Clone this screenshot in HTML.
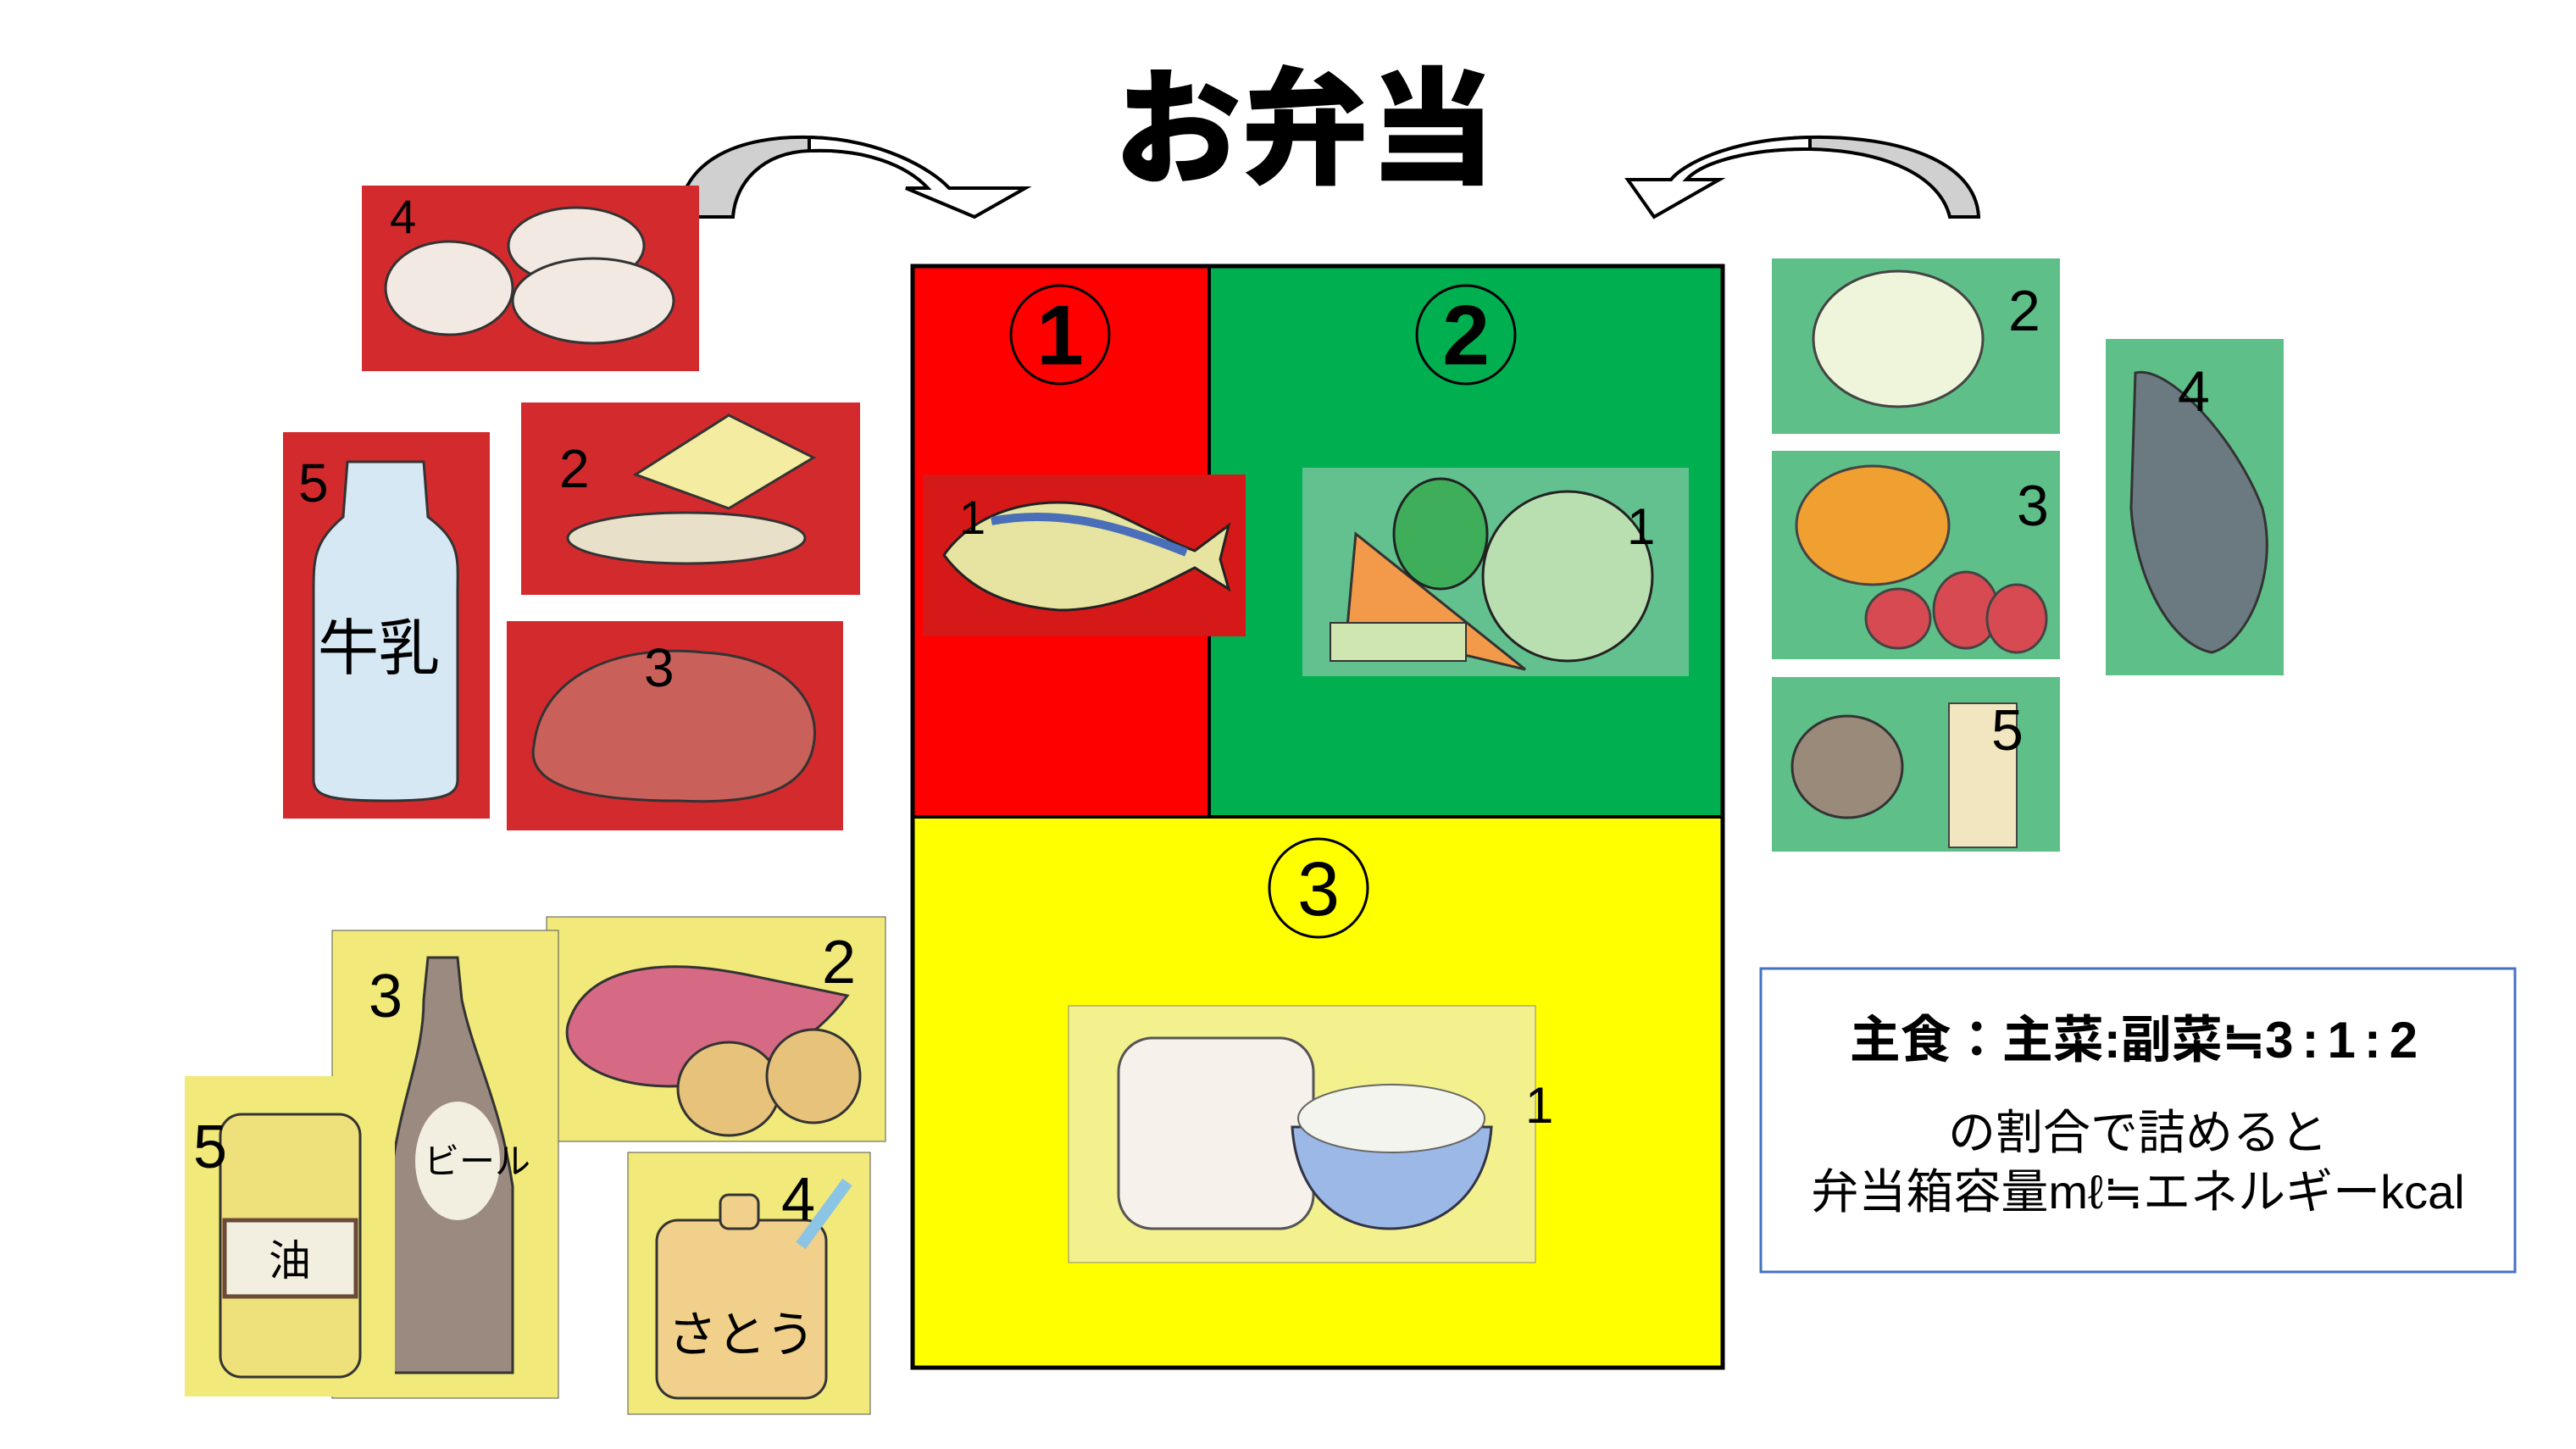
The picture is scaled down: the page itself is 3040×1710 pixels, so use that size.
<!DOCTYPE html>
<html><head><meta charset="utf-8"><style>
html,body{margin:0;padding:0;background:#fff;}
svg{display:block;}
text{font-family:"Liberation Sans","Noto Sans CJK JP",sans-serif;}
</style></head><body>
<svg width="3040" height="1710" viewBox="0 0 3040 1710" xmlns="http://www.w3.org/2000/svg">
<rect width="3040" height="1710" fill="#fff"/>

<!-- Title -->
<text x="1540" y="205" font-size="150" font-weight="900" text-anchor="middle" font-family="'Noto Sans CJK JP',sans-serif">お弁当</text>

<!-- Left curved arrow -->
<path d="M801,256 C805,190 870,160 955,162 C1040,164 1100,200 1120,222 L1095,222 C1070,195 1020,175 955,178 C900,180 868,215 865,256 Z" fill="#d0d0d0" stroke="#000" stroke-width="4"/>
<path d="M955,162 C1040,164 1100,200 1120,222 L1210,222 L1150,256 L1069,222 L1095,222 C1070,195 1020,175 955,178 Z" fill="#fff" stroke="#000" stroke-width="4"/>
<!-- Right curved arrow -->
<path d="M2335,256 C2332,190 2240,160 2136,162 C2040,164 1985,195 1972,212 L1990,212 C2010,190 2070,175 2136,176 C2230,178 2290,210 2301,256 Z" fill="#d0d0d0" stroke="#000" stroke-width="4"/>
<path d="M2136,162 C2040,164 1985,195 1972,212 L1921,212 L1952,256 L2029,212 L1990,212 C2010,190 2070,175 2136,176 Z" fill="#fff" stroke="#000" stroke-width="4"/>

<!-- Main box -->
<rect x="1077" y="314" width="349" height="650" fill="#ff0000"/>
<rect x="1426" y="314" width="607" height="650" fill="#00b050"/>
<rect x="1077" y="964" width="956" height="650" fill="#ffff00"/>
<rect x="1077" y="314" width="956" height="1300" fill="none" stroke="#000" stroke-width="5"/>
<line x1="1427" y1="314" x2="1427" y2="964" stroke="#000" stroke-width="4"/>
<line x1="1077" y1="964" x2="2033" y2="964" stroke="#000" stroke-width="4"/>

<ellipse cx="1251" cy="395" rx="58" ry="58" fill="none" stroke="#000" stroke-width="3"/>
<text x="1251" y="430" font-size="100" font-weight="bold" text-anchor="middle">1</text>
<ellipse cx="1730" cy="395" rx="58" ry="58" fill="none" stroke="#000" stroke-width="3"/>
<text x="1730" y="430" font-size="100" font-weight="bold" text-anchor="middle">2</text>
<ellipse cx="1556" cy="1048" rx="58" ry="58" fill="none" stroke="#000" stroke-width="3"/>
<text x="1556" y="1080" font-size="90" text-anchor="middle">3</text>

<!-- Fish photo -->
<rect x="1089" y="560" width="381" height="191" fill="#d51818"/>
<path d="M1114,655 C1160,590 1250,585 1300,600 C1340,615 1380,640 1410,650 L1450,620 L1440,660 L1450,695 L1410,670 C1370,690 1320,720 1250,720 C1180,715 1140,690 1114,655 Z" fill="#e6e4a0" stroke="#222" stroke-width="3"/>
<path d="M1170,615 C1250,600 1320,620 1400,652" fill="none" stroke="#4a6fb8" stroke-width="10"/>
<text x="1132" y="630" font-size="56">1</text>

<!-- Veg photo -->
<rect x="1537" y="552" width="456" height="246" fill="#62c18e"/>
<path d="M1600,630 L1800,790 L1590,740 Z" fill="#f29a4a" stroke="#333" stroke-width="3"/>
<ellipse cx="1700" cy="630" rx="55" ry="65" fill="#3fae5a" stroke="#222" stroke-width="3"/>
<ellipse cx="1850" cy="680" rx="100" ry="100" fill="#b9dfb0" stroke="#222" stroke-width="3"/>
<rect x="1570" y="735" width="160" height="45" fill="#cfe6b0" stroke="#333" stroke-width="2"/>
<text x="1920" y="642" font-size="60">1</text>

<!-- Bread/rice photo -->
<rect x="1261" y="1187" width="551" height="303" fill="#f3f08e" stroke="#888" stroke-width="1"/>
<rect x="1320" y="1225" width="230" height="225" rx="40" fill="#f6f1ea" stroke="#555" stroke-width="3"/>
<path d="M1525,1330 L1760,1330 C1755,1410 1700,1450 1640,1450 C1580,1450 1530,1410 1525,1330 Z" fill="#9bb8e6" stroke="#334" stroke-width="3"/>
<ellipse cx="1642" cy="1320" rx="110" ry="40" fill="#f4f4ee" stroke="#666" stroke-width="2"/>
<text x="1800" y="1325" font-size="60">1</text>

<!-- Left red group -->
<rect x="427" y="219" width="398" height="219" fill="#d32a2e"/>
<ellipse cx="530" cy="340" rx="75" ry="55" fill="#f2e9e2" stroke="#333" stroke-width="3"/>
<ellipse cx="680" cy="290" rx="80" ry="45" fill="#f2e9e2" stroke="#333" stroke-width="3"/>
<ellipse cx="700" cy="355" rx="95" ry="50" fill="#f2e9e2" stroke="#333" stroke-width="3"/>
<text x="460" y="275" font-size="56">4</text>

<rect x="334" y="510" width="244" height="456" fill="#d32a2e"/>
<path d="M410,545 L500,545 L505,610 C545,640 540,660 540,700 L540,920 C540,940 520,945 455,945 C390,945 370,940 370,920 L370,700 C370,660 370,640 405,610 Z" fill="#d6e8f3" stroke="#333" stroke-width="3"/>
<text x="375" y="790" font-size="72" font-family="'Noto Sans CJK JP',sans-serif">牛乳</text>
<text x="352" y="592" font-size="64">5</text>

<rect x="615" y="475" width="400" height="227" fill="#d32a2e"/>
<path d="M750,560 L860,490 L960,540 L860,600 Z" fill="#f4eca0" stroke="#333" stroke-width="3"/>
<ellipse cx="810" cy="635" rx="140" ry="30" fill="#e8e0c8" stroke="#333" stroke-width="3"/>
<text x="660" y="575" font-size="64">2</text>

<rect x="598" y="733" width="397" height="247" fill="#d32a2e"/>
<path d="M630,880 C640,790 740,760 830,770 C930,775 970,830 960,880 C950,930 900,950 800,945 C700,945 620,930 630,880 Z" fill="#c9615a" stroke="#333" stroke-width="3"/>
<text x="760" y="810" font-size="64">3</text>

<!-- Yellow group -->
<rect x="645" y="1082" width="400" height="265" fill="#f1e97a" stroke="#555" stroke-width="1"/>
<path d="M670,1210 C690,1140 780,1130 880,1150 L1000,1175 C960,1230 900,1260 820,1280 C740,1290 660,1260 670,1210 Z" fill="#d66a84" stroke="#333" stroke-width="3"/>
<ellipse cx="860" cy="1285" rx="60" ry="55" fill="#e6c27a" stroke="#333" stroke-width="3"/>
<ellipse cx="960" cy="1270" rx="55" ry="55" fill="#e6c27a" stroke="#333" stroke-width="3"/>
<text x="970" y="1160" font-size="72">2</text>

<rect x="392" y="1098" width="267" height="552" fill="#f1e97a" stroke="#555" stroke-width="1"/>
<path d="M505,1130 L540,1130 L545,1180 C560,1250 590,1300 605,1400 L605,1620 L460,1620 L460,1400 C470,1300 500,1250 500,1180 Z" fill="#9b8a80" stroke="#333" stroke-width="3"/>
<ellipse cx="540" cy="1370" rx="50" ry="70" fill="#f2efe0"/>
<text x="500" y="1385" font-size="42" font-family="'Noto Sans CJK JP',sans-serif">ビール</text>
<text x="435" y="1200" font-size="72">3</text>

<rect x="218" y="1270" width="248" height="378" fill="#f1e97a"/>
<rect x="260" y="1315" width="165" height="310" rx="25" fill="#eee07a" stroke="#333" stroke-width="3"/>
<rect x="265" y="1440" width="155" height="90" fill="#f3efe0" stroke="#6b4a3a" stroke-width="5"/>
<text x="342" y="1505" font-size="50" text-anchor="middle" font-family="'Noto Sans CJK JP',sans-serif">油</text>
<text x="228" y="1378" font-size="72">5</text>

<rect x="741" y="1360" width="286" height="309" fill="#f1e97a" stroke="#555" stroke-width="1"/>
<rect x="775" y="1440" width="200" height="210" rx="25" fill="#f0d08a" stroke="#333" stroke-width="3"/>
<rect x="850" y="1410" width="45" height="40" rx="10" fill="#f0d08a" stroke="#333" stroke-width="3"/>
<line x1="945" y1="1470" x2="1000" y2="1395" stroke="#8cc4e6" stroke-width="14"/>
<text x="875" y="1595" font-size="58" text-anchor="middle" font-family="'Noto Sans CJK JP',sans-serif">さとう</text>
<text x="922" y="1440" font-size="72">4</text>

<!-- Right green group -->
<rect x="2091" y="305" width="340" height="207" fill="#5fbf88"/>
<ellipse cx="2240" cy="400" rx="100" ry="80" fill="#eef5da" stroke="#444" stroke-width="3"/>
<text x="2370" y="390" font-size="68">2</text>

<rect x="2091" y="532" width="340" height="246" fill="#5fbf88"/>
<ellipse cx="2210" cy="620" rx="90" ry="70" fill="#f0a030" stroke="#444" stroke-width="3"/>
<ellipse cx="2320" cy="720" rx="38" ry="45" fill="#d84a52" stroke="#444" stroke-width="3"/>
<ellipse cx="2380" cy="730" rx="35" ry="40" fill="#d84a52" stroke="#444" stroke-width="3"/>
<ellipse cx="2240" cy="730" rx="38" ry="35" fill="#d84a52" stroke="#444" stroke-width="3"/>
<text x="2380" y="620" font-size="68">3</text>

<rect x="2091" y="799" width="340" height="206" fill="#5fbf88"/>
<ellipse cx="2180" cy="905" rx="65" ry="60" fill="#9a8a7a" stroke="#333" stroke-width="3"/>
<rect x="2300" y="830" width="80" height="170" fill="#f2e6c0" stroke="#444" stroke-width="2"/>
<text x="2350" y="885" font-size="68">5</text>

<rect x="2485" y="400" width="210" height="397" fill="#5fbf88"/>
<path d="M2520,440 C2560,430 2640,520 2670,600 C2690,680 2650,760 2610,770 C2560,760 2520,680 2515,600 Z" fill="#6b7a80" stroke="#333" stroke-width="3"/>
<text x="2570" y="485" font-size="68">4</text>

<!-- Text box -->
<rect x="2078" y="1143" width="890" height="358" fill="#fff" stroke="#4472c4" stroke-width="3"/>
<text x="2523" y="1248" font-size="60" font-weight="bold" text-anchor="middle">主食：主菜:副菜≒<tspan letter-spacing="10">3:1:2</tspan></text>
<text x="2523" y="1356" font-size="56" text-anchor="middle">の割合で詰めると</text>
<text x="2523" y="1426" font-size="56" text-anchor="middle">弁当箱容量mℓ≒エネルギーkcal</text>
</svg>
</body></html>
